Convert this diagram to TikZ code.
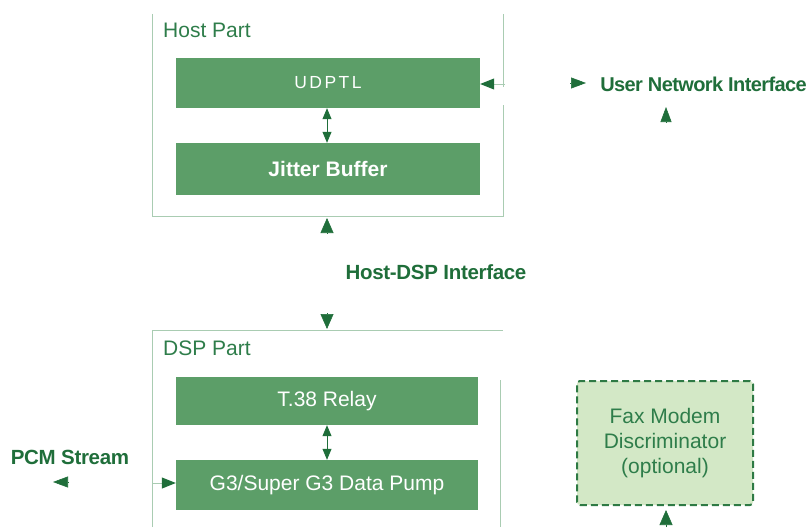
\documentclass[tikz,border=0pt]{standalone}
\usepackage{fontspec}
\setmainfont{Liberation Sans}
\usetikzlibrary{arrows.meta}
\definecolor{boxg}{HTML}{5C9E68}
\definecolor{dkg}{HTML}{1F6E3A}
\definecolor{lblg}{HTML}{2E7D4A}
\definecolor{frameg}{HTML}{A9CCB2}
\definecolor{faxfill}{HTML}{D3E8C6}
\definecolor{faxline}{HTML}{2E7A44}
\begin{document}
\begin{tikzpicture}[x=1pt,y=-1pt,
  blk/.style={draw=none,fill=boxg,text=white,minimum width=304pt,minimum height=50pt,inner sep=0pt,font=\fontsize{21}{25}\selectfont},
  frame/.style={draw=frameg,line width=1pt},
  lbl/.style={text=lblg,anchor=west,inner sep=0pt,font=\fontsize{21}{25}\selectfont},
  ext/.style={text=dkg,inner sep=0pt,font=\fontsize{20.5}{24}\selectfont\bfseries\addfontfeature{LetterSpace=-1.5}},
  bigtip/.style={dkg,line width=0.6pt,-{Triangle[width=13pt,length=15pt]}},
  smalltip/.style={dkg,line width=0.6pt,-{Triangle[width=11pt,length=15pt]}},
  dbl/.style={dkg,line width=0.8pt,{Triangle[width=9pt,length=11pt]}-{Triangle[width=9pt,length=11pt]}},
  inarrow/.style={frameg,line width=1pt,-{Triangle[width=11pt,length=14pt,color=dkg]}}
]
\useasboundingbox (0,0) rectangle (810,527);
% frames
\draw[frame] (503,14) -- (503,87);
\draw[frame] (152,14) -- (152,216) -- (503,216) -- (503,105);
\draw[frame] (152,527) -- (152,330) -- (503,330);
\draw[frame] (500,380) -- (500,527);
\node[lbl] (hostlbl) at (163,30) {Host Part};
\node[lbl] (dsplbl) at (163,348) {DSP Part};
% blocks
\node[blk] (udptl) at (328,83) {\fontsize{17.5}{20}\selectfont\addfontfeature{LetterSpace=14}UDPTL};
\node[blk,minimum height=52pt,font=\fontsize{21}{25}\selectfont\bfseries] (jitter) at (328,169) {Jitter Buffer};
\node[blk,minimum width=302pt,minimum height=48pt] (t38) at (327,401) {T.38 Relay};
\node[blk,minimum width=302pt] (g3) at (327,485) {G3/Super G3 Data Pump};
\node[draw=faxline,fill=faxfill,dashed,dash pattern=on 7pt off 4pt,line width=2pt,rounded corners=3pt,
  minimum width=176pt,minimum height=124pt,text=lblg,align=center,inner sep=0pt,
  font=\fontsize{21}{25}\selectfont] (fax) at (665,443) {Fax Modem\\Discriminator\\(optional)};
% external labels
\node[ext,anchor=east,font=\fontsize{20}{24}\selectfont\bfseries\addfontfeature{LetterSpace=-3}] (uni) at (807,84) {User Network Interface};
\node[ext] (hdi) at (436,272) {Host-DSP Interface};
\node[ext] (pcm) at (70,457) {PCM Stream};
% connectors
\coordinate (uin) at (505,84);
\draw[inarrow] (uin) -- (udptl.east |- uin);
\draw[dbl] (udptl.south -| 327,0) -- (jitter.north -| 327,0);
\draw[dbl] (t38.south) -- (g3.north);
\coordinate (pin) at (152,483);
\draw[inarrow] (pin) -- (g3.west |- pin);
% free arrowheads
\coordinate (hu1) at (327,233); \coordinate (hu2) at (327,218);
\draw[bigtip] (hu1) -- (hu2);
\coordinate (hd1) at (327,313); \coordinate (hd2) at (327,329);
\draw[bigtip] (hd1) -- (hd2);
\coordinate (ur1) at (570,83); \coordinate (ur2) at (586,83);
\draw[smalltip] (ur1) -- (ur2);
\coordinate (uu1) at (666,122); \coordinate (uu2) at (666,107);
\draw[smalltip] (uu1) -- (uu2);
\coordinate (pl1) at (69,482); \coordinate (pl2) at (53,482);
\draw[smalltip] (pl1) -- (pl2);
\coordinate (fu1) at (666,527); \coordinate (fu2) at (666,510);
\draw[bigtip] (fu1) -- (fu2);
\end{tikzpicture}
\end{document}
